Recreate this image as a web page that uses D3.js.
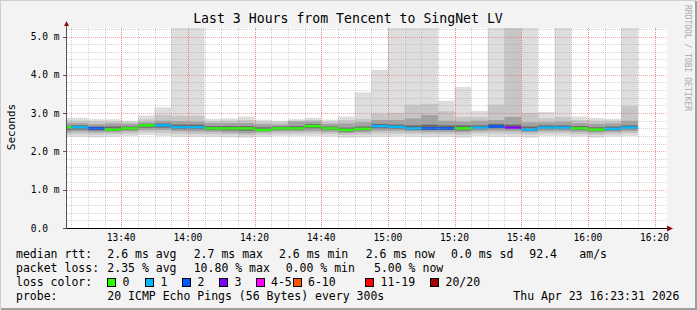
<!DOCTYPE html>
<html>
<head>
<meta charset="utf-8">
<script src="https://cdn.jsdelivr.net/npm/d3@7"></script>
<style>
body { margin: 0; background: #f3f3f3; }
svg text { font-family: "DejaVu Sans Mono", monospace; }
</style>
</head>
<body>
<svg id="chart" width="697" height="310"></svg>
<script>
// one 5 min step per bar, labelled by the end of the step
let steps = ["13:25","13:30","13:35","13:40","13:45","13:50","13:55",
  "14:00","14:05","14:10","14:15","14:20","14:25","14:30","14:35","14:40","14:45","14:50","14:55",
  "15:00","15:05","15:10","15:15","15:20","15:25","15:30","15:35","15:40","15:45","15:50","15:55",
  "16:00","16:05","16:10","16:15"];

// median rtt (ms) and lost pings out of 20
let median = [2.63,2.63,2.60,2.57,2.60,2.68,2.68,2.63,2.63,2.60, 2.60,2.60,2.56,2.60,2.60,2.66,2.60,2.56,2.59,2.66,
  2.64,2.60,2.60,2.60,2.60,2.62,2.65,2.62,2.57,2.62, 2.62,2.60,2.57,2.59,2.62];
let loss = [0,1,2,0,0,0,1,1,1,0, 0,0,0,0,0,0,0,0,0,1, 1,1,2,2,0,1,2,3,1,1, 1,0,0,1,1];

// smoke: sorted ping spread (ms)
let pingMin = [2.38,2.38,2.37,2.38,2.40,2.43,2.40,2.38,2.38,2.38, 2.37,2.36,2.38,2.40,2.40,2.40,2.39,2.36,2.37,2.38,
  2.39,2.38,2.37,2.38,2.36,2.40,2.38,2.38,2.36,2.40, 2.40,2.39,2.36,2.39,2.40];
let ping10 = [2.44,2.45,2.44,2.45,2.46,2.50,2.48,2.46,2.45,2.45, 2.44,2.42,2.44,2.46,2.46,2.47,2.46,2.43,2.44,2.47,
  2.47,2.46,2.45,2.45,2.43,2.47,2.47,2.46,2.44,2.47, 2.47,2.45,2.43,2.45,2.47];
let ping25 = [2.50,2.52,2.50,2.50,2.52,2.56,2.56,2.53,2.52,2.51, 2.49,2.47,2.50,2.52,2.52,2.53,2.51,2.48,2.50,2.54,
  2.54,2.52,2.51,2.51,2.50,2.53,2.54,2.53,2.50,2.53, 2.53,2.51,2.49,2.51,2.53];
let ping40 = [2.56,2.57,2.55,2.54,2.56,2.62,2.62,2.58,2.58,2.56, 2.55,2.54,2.53,2.56,2.56,2.60,2.56,2.52,2.55,2.60,
  2.59,2.56,2.56,2.56,2.55,2.58,2.60,2.58,2.54,2.58, 2.58,2.56,2.53,2.55,2.58];
let ping60 = [2.67,2.68,2.65,2.65,2.65,2.72,2.73,2.70,2.70,2.66, 2.66,2.66,2.63,2.65,2.66,2.71,2.65,2.62,2.65,2.72,
  2.70,2.68,2.70,2.68,2.68,2.68,2.72,2.70,2.65,2.68, 2.68,2.66,2.63,2.65,2.68];
let ping75 = [2.74,2.74,2.71,2.73,2.72,2.76,2.80,2.79,2.78,2.74, 2.74,2.74,2.71,2.70,2.78,2.78,2.72,2.73,2.76,2.82,
  2.82,2.86,2.95,2.80,2.78,2.80,2.82,2.90,2.76,2.76, 2.78,2.74,2.72,2.73,2.80];
let ping90 = [2.80,2.80,2.78,2.78,2.76,2.84,2.95,2.93,2.93,2.79, 2.80,2.82,2.77,2.76,2.80,2.82,2.77,2.82,2.85,2.98,
  3.00,3.22,3.24,3.05,2.90,2.90,3.22,6.00,3.00,2.86, 2.90,2.82,2.80,2.80,3.18];
let pingMax = [2.88,2.88,2.84,2.84,2.80,2.94,3.15,6.00,6.00,2.85, 2.86,2.91,2.83,2.80,2.84,2.88,2.83,2.91,3.54,4.13,
  6.00,6.00,6.00,3.32,3.68,3.06,6.00,6.00,6.00,3.03, 6.00,2.91,2.87,2.85,6.00];

let yTicks = [0, 1, 2, 3, 4, 5];
let lossLabels = ["0","1","2","3","4-5","6-10","11-19","20/20"];
let lossColors = ["#26ff00","#00b8ff","#0059ff","#7e00ff","#ff00ff","#ff5500","#ff0000","#a10000"];

let title = "Last 3 Hours from Tencent to SingNet LV";
let rttRow = ["median rtt:","2.6 ms avg","2.7 ms max","2.6 ms min","2.6 ms now","0.0 ms sd","92.4","am/s"];
let lossRow = ["packet loss:","2.35 % avg","10.80 % max","0.00 % min","5.00 % now"];
let probeRow = ["probe:","20 ICMP Echo Pings (56 Bytes) every 300s","Thu Apr 23 16:23:31 2026"];

let svg = d3.select("#chart");
let parseT = d3.timeParse("%H:%M:%S");
let parseM = d3.timeParse("%H:%M");

let x = d3.scaleTime()
  .domain([parseT("13:23:45"), parseT("16:23:45")])
  .range([67, 667]);
let y = d3.scaleLinear().domain([0, 200 / 38.3]).range([228, 28]);

function lossIndex(n) {
  if (n <= 3) return n;
  if (n <= 5) return 4;
  if (n <= 10) return 5;
  if (n < 20) return 6;
  return 7;
}

// frame
svg.append("rect").attr("width", 697).attr("height", 310).attr("fill", "#f3f3f3");
svg.append("path").attr("d", "M0,309V0H696").attr("stroke", "#cfcfcf").attr("stroke-width", 2).attr("fill", "none");
svg.append("path").attr("d", "M1,309H696V1").attr("stroke", "#9e9e9e").attr("stroke-width", 2).attr("fill", "none");

svg.append("rect").attr("x", 67).attr("y", 28).attr("width", 600).attr("height", 200).attr("fill", "#fff");

svg.append("clipPath").attr("id", "plotclip")
  .append("rect").attr("x", 67).attr("y", 28).attr("width", 600).attr("height", 200);

let plot = svg.append("g").attr("clip-path", "url(#plotclip)");

function barX(d) { return x(d3.timeMinute.offset(parseM(d), -5)); }
function barW(d) { return x(parseM(d)) - barX(d); }

function addSmoke() {
  let layers = [
    [pingMin, pingMax, "#dddddd"],
    [ping10, ping90, "#c6c6c6"],
    [ping25, ping75, "#a2a2a2"],
    [ping40, ping60, "#6a6a6a"]
  ];
  layers.forEach(function(l) {
    plot.append("g").selectAll("rect")
      .data(steps)
      .enter().append("rect")
      .attr("x", barX)
      .attr("width", barW)
      .attr("y", (d, i) => y(l[1][i]))
      .attr("height", (d, i) => y(l[0][i]) - y(l[1][i]))
      .attr("fill", l[2]);
  });

  // median, coloured by loss
  plot.append("g").selectAll("rect")
    .data(steps)
    .enter().append("rect")
    .attr("x", barX)
    .attr("width", barW)
    .attr("y", (d, i) => y(median[i]) - 1.2)
    .attr("height", 2.4)
    .attr("fill", (d, i) => lossColors[lossIndex(loss[i])]);
}

function addGrid() {
  let g = svg.append("g").attr("shape-rendering", "crispEdges");
  let minorX = d3.timeMinute.every(5).range(x.domain()[0], x.domain()[1]);
  let majorX = x.ticks(d3.timeMinute.every(20));
  let minorY = d3.range(0.2, 5.3, 0.2).filter(v => Math.abs(v - Math.round(v)) > 0.05);

  g.selectAll(".vmin").data(minorX).enter().append("line")
    .attr("x1", d => Math.round(x(d)) + 0.5).attr("x2", d => Math.round(x(d)) + 0.5)
    .attr("y1", 28).attr("y2", 228)
    .attr("stroke", "rgba(160,160,160,0.5)").attr("stroke-dasharray", "1,1");
  g.selectAll(".hmin").data(minorY).enter().append("line")
    .attr("x1", 67).attr("x2", 667)
    .attr("y1", d => Math.round(y(d)) + 0.5).attr("y2", d => Math.round(y(d)) + 0.5)
    .attr("stroke", "rgba(160,160,160,0.5)").attr("stroke-dasharray", "1,1");
  g.selectAll(".vmaj").data(majorX).enter().append("line")
    .attr("x1", d => Math.round(x(d)) + 0.5).attr("x2", d => Math.round(x(d)) + 0.5)
    .attr("y1", 28).attr("y2", 228)
    .attr("stroke", "rgba(240,90,90,0.55)").attr("stroke-dasharray", "1,1");
  g.selectAll(".hmaj").data(yTicks.slice(1)).enter().append("line")
    .attr("x1", 67).attr("x2", 667)
    .attr("y1", d => Math.round(y(d)) + 0.5).attr("y2", d => Math.round(y(d)) + 0.5)
    .attr("stroke", "rgba(240,90,90,0.55)").attr("stroke-dasharray", "1,1");
}

function addAxes() {
  let g = svg.append("g").attr("shape-rendering", "crispEdges");
  g.append("line").attr("x1", 66.5).attr("x2", 66.5).attr("y1", 229).attr("y2", 25).attr("stroke", "#555");
  g.append("line").attr("x1", 63).attr("x2", 668).attr("y1", 228.5).attr("y2", 228.5).attr("stroke", "#000");
  g.selectAll(".yt").data(yTicks).enter().append("line")
    .attr("x1", 63).attr("x2", 67)
    .attr("y1", d => Math.round(y(d)) + 0.5).attr("y2", d => Math.round(y(d)) + 0.5)
    .attr("stroke", "#555");
  svg.append("path").attr("d", "M64,26L69,26L66.5,21Z").attr("fill", "#8b1010");
  svg.append("path").attr("d", "M667,225.5L667,231.5L673,228.5Z").attr("fill", "#8b1010");

  svg.selectAll(".ylab").data(yTicks).enter().append("text")
    .attr("x", 30.7).attr("y", d => y(d) + 3.5)
    .attr("font-size", "9.6px").attr("fill", "#000")
    .text(d => d === 0 ? "0.0" : d3.format(".1f")(d) + " m");

  let fmt = d3.timeFormat("%H:%M");
  svg.selectAll(".xlab").data(x.ticks(d3.timeMinute.every(20))).enter().append("text")
    .attr("x", d => x(d)).attr("y", 241)
    .attr("text-anchor", "middle").attr("font-size", "9.6px").attr("fill", "#000")
    .text(d => fmt(d));
}

function addText() {
  svg.append("text").attr("x", 348).attr("y", 23).attr("text-anchor", "middle")
    .attr("font-size", "13.2px").attr("fill", "#000").text(title);

  svg.append("text").attr("transform", "translate(14.5,127) rotate(-90)")
    .attr("text-anchor", "middle").attr("font-size", "11px").attr("fill", "#000").text("Seconds");

  svg.append("text").attr("transform", "translate(685,5) rotate(90)")
    .attr("font-size", "8px").attr("fill", "#aaaaaa").text("RRDTOOL / TOBI OETIKER");

  let fs = "11.5px";
  let rows = [[rttRow, [16, 107.3, 193.7, 279, 365.7, 451, 529.3, 579.3], 257.7],
              [lossRow, [16, 107.3, 193.7, 285.7, 374], 271.7],
              [probeRow, [16, 107.3, 513.3], 299.5]];
  rows.forEach(function(r) {
    svg.append("g").selectAll("text").data(r[0]).enter().append("text")
      .attr("x", (d, i) => r[1][i]).attr("y", r[2])
      .attr("font-size", fs).attr("fill", "#000")
      .text(d => d);
  });

  svg.append("text").attr("x", 16).attr("y", 285.7).attr("font-size", fs).text("loss color:");
  let boxX = [107.5, 145.5, 182.5, 219.5, 256, 293, 365.5, 430.5];
  let lg = svg.append("g").selectAll("g").data(lossLabels).enter().append("g");
  lg.append("rect")
    .attr("x", (d, i) => boxX[i]).attr("y", 278.5).attr("width", 8).attr("height", 8)
    .attr("fill", (d, i) => lossColors[i]).attr("stroke", "#000").attr("shape-rendering", "crispEdges");
  lg.append("text")
    .attr("x", (d, i) => boxX[i] + 15).attr("y", 285.7)
    .attr("font-size", fs).text(d => d);
}

addSmoke();
addGrid();
addAxes();
addText();
</script>
</body>
</html>
